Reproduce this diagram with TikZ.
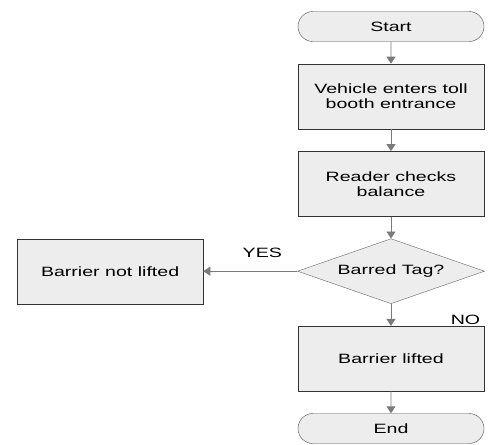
\documentclass[tikz,border=0pt]{standalone}
\usepackage{fontspec}
\setmainfont[FakeStretch=1.45]{Liberation Sans}
\usetikzlibrary{positioning,shapes.geometric,shapes.misc,arrows.meta}
\definecolor{boxfill}{HTML}{EDEDED}
\definecolor{linkgray}{HTML}{7A7A7A}

\begin{document}
\begin{tikzpicture}[x=1pt,y=1pt,node distance=22pt,
	every node/.style={font=\fontsize{13.5}{15}\selectfont},
	terminal/.style={shape=rounded rectangle,draw=black!70,fill=boxfill,minimum width=186pt,minimum height=30pt,inner sep=0pt},
	process/.style={shape=rectangle,draw=black!80,fill=boxfill,minimum width=186pt,minimum height=65pt,align=center,inner sep=0pt},
	decision/.style={shape=diamond,draw=black!60,fill=boxfill,minimum width=187pt,minimum height=65pt,aspect=2.9,inner sep=0pt},
	link/.style={draw=linkgray,line width=0.9pt,-{Triangle[width=9pt,length=7pt]}}]
		\useasboundingbox (0,0) rectangle (491,-445);
		\node(start) [terminal] at (391,-26.5) {Start};
		\node(enter) [process,below=of start] {Vehicle enters toll\\booth entrance};
		\node(check) [process,below=of enter] {Reader checks\\balance};
		\node(barred) [decision,below=of check] {Barred Tag?};
		\node(lifted) [process,below=of barred] {Barrier lifted};
		\node(end) [terminal,below=of lifted] {End};
		\node(notlifted) [process,left=94pt of barred] {Barrier not lifted};
		\draw[link] (start) -- (enter);
		\draw[link] (enter) -- (check);
		\draw[link] (check) -- (barred);
		\draw[link] (barred) -- (notlifted) node [midway,above=10pt,xshift=12pt] {YES};
		\draw[link] (barred) -- (lifted) node [midway,right=56pt,yshift=-5pt] {NO};
		\draw[link] (lifted) -- (end);
	\end{tikzpicture}
\end{document}
